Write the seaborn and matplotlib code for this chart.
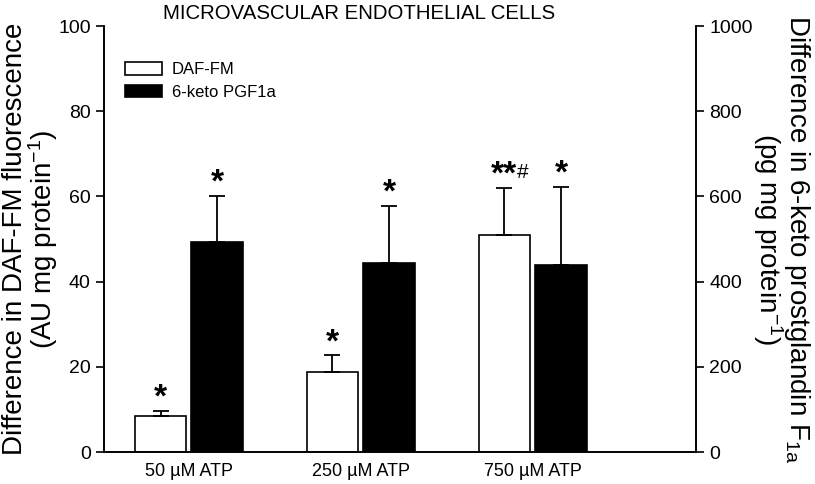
import numpy as np
import pandas as pd
import matplotlib
matplotlib.use("Agg")
import matplotlib.pyplot as plt
import seaborn as sns
from matplotlib.patches import Patch

doses = ["50 µM ATP", "250 µM ATP", "750 µM ATP"]
series = ["DAF-FM", "6-keto PGF1a"]
daf_vals = [8.5, 18.8, 51.0]
daf_err = [1.2, 3.9, 11.0]
keto_vals = [492, 443, 440]
keto_err = [109, 135, 182]
daf_marks = ["*", "*", "**"]
keto_marks = ["*", "*", "*"]

sns.set_style("ticks")
plt.rcParams['font.family'] = ['Liberation Sans', 'DejaVu Sans']
plt.rcParams['mathtext.fontset'] = 'custom'
plt.rcParams['mathtext.rm'] = 'Liberation Sans'
plt.rcParams['mathtext.it'] = 'Liberation Sans'
for k in ("text.color", "axes.labelcolor", "xtick.color", "ytick.color", "axes.edgecolor"):
    plt.rcParams[k] = "black"

fig = plt.figure(figsize=(8.15, 4.84), dpi=100)
ax1 = fig.add_axes([0.1276, 0.0661, 0.7264, 0.88])
ax2 = ax1.twinx()

df1 = pd.DataFrame({"dose": doses, "value": daf_vals, "series": series[0]})
df2 = pd.DataFrame({"dose": doses, "value": keto_vals, "series": series[1]})

sns.barplot(data=df1, x="dose", y="value", hue="series", hue_order=series,
            order=doses, palette=["white", "black"], edgecolor="black",
            linewidth=1.2, width=0.66, gap=0.09, dodge=True, errorbar=None,
            legend=False, ax=ax1)
sns.barplot(data=df2, x="dose", y="value", hue="series", hue_order=series,
            order=doses, palette=["white", "black"], edgecolor="black",
            linewidth=1.2, width=0.66, gap=0.09, dodge=True, errorbar=None,
            legend=False, ax=ax2)

def centers(ax):
    xs = []
    for p in ax.patches:
        if p.get_height() > 0 and p.get_width() < 1:
            xs.append((p.get_x() + p.get_width() / 2, p.get_height()))
    xs.sort()
    return [x for x, h in xs]

x1 = centers(ax1)
x2 = centers(ax2)

ax1.errorbar(x1, daf_vals, yerr=[np.zeros(3), daf_err], fmt="none",
             ecolor="black", elinewidth=1.3, capsize=6, capthick=1.3, zorder=1)
ax2.errorbar(x2, keto_vals, yerr=[np.zeros(3), keto_err], fmt="none",
             ecolor="black", elinewidth=1.3, capsize=6, capthick=1.3, zorder=1)

star_kw = dict(textcoords="offset points", va="bottom", fontsize=24, fontweight="bold")
for x, v, e, m in zip(x1, daf_vals, daf_err, daf_marks):
    if m == "**":
        ax1.annotate(m, (x, v + e), xytext=(9, -2), ha="right", **star_kw)
        ax1.annotate("#", (x, v + e), xytext=(9, 4), textcoords="offset points",
                     ha="left", va="bottom", fontsize=15)
    else:
        ax1.annotate(m, (x, v + e), xytext=(0, -2), ha="center", **star_kw)
for x, v, e, m in zip(x2, keto_vals, keto_err, keto_marks):
    ax2.annotate(m, (x, v + e), xytext=(0, -2), ha="center", **star_kw)

ax1.set_ylim(0, 100)
ax2.set_ylim(0, 1000)
ax1.set_xlim(-0.494, 2.95)
ax1.set_yticks([0, 20, 40, 60, 80, 100])
ax2.set_yticks([0, 200, 400, 600, 800, 1000])
ax1.set_xlabel("")
ax1.set_ylabel("Difference in DAF-FM fluorescence\n(AU mg protein$^{-1}$)",
               fontsize=20, linespacing=0.9)
ax1.yaxis.set_label_coords(-0.075, 0.5)
ax2.set_ylabel("Difference in 6-keto prostglandin F$_{1a}$\n(pg mg protein$^{-1}$)",
               fontsize=20, rotation=270, linespacing=0.9)
ax2.yaxis.set_label_coords(1.196, 0.5)
ax1.tick_params(axis="y", labelsize=14, length=6, width=1.2, direction="out")
ax2.tick_params(axis="y", labelsize=14, length=6, width=1.2, direction="out")
ax1.tick_params(axis="x", labelsize=13, length=0, pad=8)
for ax in (ax1, ax2):
    ax.spines["top"].set_visible(False)
    for s in ("left", "right", "bottom"):
        ax.spines[s].set_linewidth(1.2)
        ax.spines[s].set_visible(True)

fig.text(0.44, 0.972, "MICROVASCULAR ENDOTHELIAL CELLS", fontsize=14.7,
         ha="center", va="center")

handles = [Patch(facecolor="white", edgecolor="black", linewidth=1.2, label=series[0]),
           Patch(facecolor="black", edgecolor="black", linewidth=1.2, label=series[1])]
ax1.legend(handles=handles, loc="upper left", bbox_to_anchor=(0.01, 0.95),
           frameon=False, fontsize=12, handlelength=2.2, handleheight=0.75,
           handletextpad=0.6, labelspacing=0.45)

fig.savefig("out.png", dpi=100)
